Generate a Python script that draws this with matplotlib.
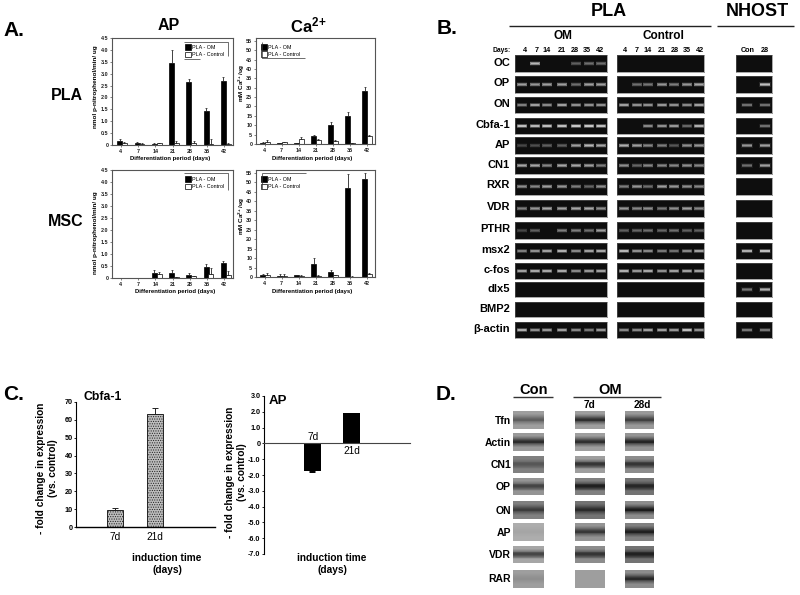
import numpy as np
import matplotlib
matplotlib.use('Agg')
import matplotlib.pyplot as plt

plt.rcParams['font.family'] = ['Liberation Sans', 'DejaVu Sans']
plt.rcParams['font.weight'] = 'bold'
plt.rcParams['mathtext.default'] = 'regular'
plt.rcParams['hatch.linewidth'] = 0.5

W, H = 800, 595
DARK = '#0e0e0e'

# ---------- data ----------
days = ['4', '7', '14', '21', '28', '35', '42']
ap_ticks = [0, 0.5, 1.0, 1.5, 2.0, 2.5, 3.0, 3.5, 4.0, 4.5]
ca_ticks = [0, 5, 10, 15, 20, 25, 30, 35, 40, 45, 50, 55]

pla_ap_om = [0.17, 0.10, 0.06, 3.45, 2.65, 1.42, 2.68]
pla_ap_om_err = [0.08, 0.03, 0.02, 0.55, 0.13, 0.12, 0.20]
pla_ap_ct = [0.08, 0.05, 0.07, 0.07, 0.07, 0.05, 0.06]
pla_ap_ct_err = [0.05, 0.02, 0.02, 0.08, 0.08, 0.22, 0.02]

pla_ca_om = [0.7, 0.5, 0.3, 4.0, 10.0, 15.0, 28.5]
pla_ca_om_err = [0.2, 0.2, 0.2, 1.0, 1.8, 1.8, 1.7]
pla_ca_ct = [1.2, 0.8, 2.5, 2.0, 1.5, 0.4, 4.5]
pla_ca_ct_err = [0.7, 0.3, 1.0, 0.5, 0.8, 0.3, 0.3]

msc_ap_om = [0, 0, 0.20, 0.22, 0.12, 0.45, 0.63]
msc_ap_om_err = [0, 0, 0.12, 0.10, 0.07, 0.13, 0.08]
msc_ap_ct = [0, 0, 0.15, 0.04, 0.07, 0.15, 0.13]
msc_ap_ct_err = [0, 0, 0.08, 0.02, 0.03, 0.28, 0.15]

msc_ca_om = [0.8, 0.6, 0.9, 7.0, 2.7, 47.0, 52.0]
msc_ca_om_err = [1.0, 1.0, 0.4, 2.8, 0.9, 7.5, 2.7]
msc_ca_ct = [0.9, 0.7, 0.6, 0.6, 0.9, 0.2, 1.6]
msc_ca_ct_err = [1.0, 0.8, 0.3, 0.3, 0.3, 0.1, 0.3]

genes = ['OC', 'OP', 'ON', 'Cbfa-1', 'AP', 'CN1', 'RXR', 'VDR', 'PTHR',
         'msx2', 'c-fos', 'dlx5', 'BMP2', 'β-actin']
gel_om = [
    [0, .85, 0, 0, .3, .4, .4],
    [.7, .65, .7, .7, .4, .7, .7],
    [.5, .7, .55, .7, .6, .6, .6],
    [.9, .85, .9, .9, .95, .95, .9],
    [.15, .2, .3, .3, .7, .85, .75],
    [.75, .75, .55, .75, .75, .7, .5],
    [.6, .55, .7, .65, .5, .35, .6],
    [.5, .65, .75, .7, .75, .75, .6],
    [.15, .3, 0, .5, .5, .4, .7],
    [.5, .6, .7, .8, .55, .7, .75],
    [.7, .75, .75, .75, .55, .65, .7],
    [0, 0, 0, 0, 0, 0, 0],
    [0, 0, 0, 0, 0, 0, 0],
    [.8, .6, .65, .7, .55, .45, .65],
]
gel_ct = [
    [0, 0, 0, 0, 0, 0, 0],
    [0, .4, .45, .65, .5, .65, .75],
    [.7, .6, .6, .65, .6, .55, .7],
    [0, 0, .55, .6, .65, .35, .8],
    [.8, .7, .55, .5, .25, .6, .65],
    [.6, .35, .55, .55, .55, .6, .55],
    [.5, .65, .4, .7, .65, .6, .55],
    [.65, .55, .6, .45, .6, .7, .55],
    [.3, .35, .4, .35, .4, .3, .3],
    [.85, .6, .55, .45, .4, .55, .7],
    [.8, .65, .75, .6, .7, .7, .7],
    [0, 0, 0, 0, 0, 0, 0],
    [0, 0, 0, 0, 0, 0, 0],
    [.55, .55, .7, .7, .65, .9, .6],
]
gel_nh = [[0, 0], [0, .9], [.4, .4], [0, .4], [.65, .7], [.4, .7], [0, 0],
          [0, 0], [0, 0], [.8, .9], [0, 0], [.45, .8], [0, 0], [.45, .45]]
nh_labels = ['Con', '28']

cbfa_times = ['7d', '21d']
cbfa_vals = [9.5, 63.5]
cbfa_err = [1.2, 3.0]
cbfa_ticks = [0, 10, 20, 30, 40, 50, 60, 70]
apc_times = ['7d', '21d']
apc_vals = [-1.75, 1.9]
apc_err = [0.05, 0.05]
apc_ticks = [3, 2, 1, 0, -1, -2, -3, -4, -5, -6, -7]
apc_ticklabels = ['3.0', '2.0', '1.0', '0', '-1.0', '-2.0', '-3.0', '-4.0', '-5.0', '-6.0', '-7.0']

wb_rows = ['Tfn', 'Actin', 'CN1', 'OP', 'ON', 'AP', 'VDR', 'RAR']
wb_band = [[.45, .8, .65], [.8, .8, .85], [.35, .75, .7], [.6, .85, .75],
           [.6, .7, .95], [.05, .7, .85], [.65, .7, .8], [.1, 0, .8]]
wb_bg = [[.62, .62, .6], [.6, .62, .58], [.5, .62, .55], [.58, .5, .45],
         [.5, .45, .55], [.68, .58, .5], [.65, .55, .45], [.62, .62, .55]]

# ---------- layout (pixels) ----------
fig = plt.figure(figsize=(W / 100, H / 100), dpi=100, facecolor='white')


def axpx(x0, y0, x1, y1, **kw):
    return fig.add_axes([x0 / W, 1 - y1 / H, (x1 - x0) / W, (y1 - y0) / H], **kw)


def bars(box, om, om_e, ct, ct_e, ticks, ylim, off, ticklabels):
    ax = axpx(*box)
    x = np.arange(len(days))
    kw = dict(width=0.29, edgecolor='black', linewidth=0.5,
              error_kw=dict(ecolor='#222222', elinewidth=0.6, capsize=0.8, capthick=0.5))
    h1 = ax.bar(x + off[0], om, color='black',
                yerr=[np.zeros(len(om)), om_e], **kw)
    h2 = ax.bar(x + off[1], ct, color='white',
                yerr=[np.zeros(len(ct)), ct_e], **kw)
    ax.set_xlim(-0.5, 6.5)
    ax.set_ylim(*ylim)
    ax.set_xticks(x, days)
    ax.set_yticks(ticks, ticklabels)
    ax.tick_params(labelsize=3.9, length=1.2, width=0.4, pad=1.5, colors='#222222')
    for s in ax.spines.values():
        s.set_linewidth(0.8)
        s.set_color('#555555')
    return ax, h1, h2


ap_labels = ['0', '0.5', '1.0', '1.5', '2.0', '2.5', '3.0', '3.5', '4.0', '4.5']
ca_labels = [str(t) for t in ca_ticks]
a1, h1, h2 = bars((112, 38, 233, 145), pla_ap_om, pla_ap_om_err, pla_ap_ct, pla_ap_ct_err,
                  ap_ticks, (0, 4.5), (-0.05, 0.22), ap_labels)
a2, _, _ = bars((256, 38, 375, 144), pla_ca_om, pla_ca_om_err, pla_ca_ct, pla_ca_ct_err,
                ca_ticks, (0, 56.5), (-0.1, 0.17), ca_labels)
a3, _, _ = bars((112, 170, 233, 278), msc_ap_om, msc_ap_om_err, msc_ap_ct, msc_ap_ct_err,
                ap_ticks, (0, 4.5), (-0.05, 0.22), ap_labels)
a4, _, _ = bars((256, 170, 375, 277), msc_ca_om, msc_ca_om_err, msc_ca_ct, msc_ca_ct_err,
                ca_ticks, (0, 56.5), (-0.1, 0.17), ca_labels)

for ax, anchor in ((a1, (0.595, 0.95)), (a2, (0.03, 0.95)), (a3, (0.595, 0.95)), (a4, (0.03, 0.95))):
    lg = ax.legend([h1, h2], ['PLA - OM', 'PLA - Control'], loc='upper left', bbox_to_anchor=anchor,
                   frameon=False, handlelength=1.1, handleheight=1.1,
                   handletextpad=0.2, labelspacing=0.3, borderpad=0.2, borderaxespad=0,
                   prop=dict(size=3.9, weight='normal'))


# Gels
gel_rows = [(55, 72), (76, 93), (97, 113), (118, 134), (137, 154), (157, 174), (178, 195),
            (200, 217), (222, 239), (243, 259), (263, 279), (282, 297), (302, 317), (322, 338)]


def gel(x0, x1, y0, y1, vals, lanes):
    ax = axpx(x0, y0, x1, y1)
    ax.set_facecolor(DARK)
    ax.set_xlim(x0, x1)
    ax.set_ylim(0, 1)
    ax.set_xticks([])
    ax.set_yticks([])
    for s in ax.spines.values():
        s.set_color('#666666')
        s.set_linewidth(0.4)
    w = 0.7 * (lanes[1] - lanes[0]) if lanes[1] - lanes[0] < 14 else 10
    for xc, v in zip(lanes, vals):
        if v > 0:
            g = str(0.2 + 0.7 * v)
            for hgt, wid, a in ((0.30, w + 1.5, 0.12), (0.22, w + 0.8, 0.25), (0.15, w, 0.45), (0.08, w - 0.8, 0.7)):
                ax.bar(xc, hgt, wid, bottom=0.5 - hgt / 2, color=g, alpha=a, linewidth=0)


om_lanes = [522, 535, 547, 562, 576, 589, 601]
ct_lanes = [624, 637, 648, 662, 674, 687, 699]
nh_lanes = [747, 765]
for (y0, y1), a, b, c in zip(gel_rows, gel_om, gel_ct, gel_nh):
    gel(515, 607, y0, y1, a, om_lanes)
    gel(617, 704, y0, y1, b, ct_lanes)
    gel(736, 772, y0, y1, c, nh_lanes)


# Panel C
def style_c(ax):
    ax.spines['top'].set_visible(False)
    ax.spines['right'].set_visible(False)
    ax.tick_params(axis='y', labelsize=5.2, length=1.5, width=0.6, pad=1)
    ax.patch.set_alpha(0)


c1 = axpx(76, 402, 215, 527)
style_c(c1)
c1.bar([0, 1], cbfa_vals, 0.4, color='#bdbdbd', edgecolor='#222222', hatch='.......', linewidth=0.7,
       yerr=[[0, 0], cbfa_err], error_kw=dict(ecolor='#222222', elinewidth=0.7, capsize=2.2, capthick=0.7))
c1.set_xlim(-0.975, 2.5)
c1.set_ylim(0, 70)
c1.set_yticks(cbfa_ticks)
c1.set_xticks([0, 1], cbfa_times)
c1.tick_params(axis='x', length=0, labelsize=7.3, pad=3.5)
for l in c1.get_xticklabels():
    l.set_fontweight('normal')
c1.spines['bottom'].set_linewidth(1)

c2 = axpx(264, 396, 410, 554)
style_c(c2)
c2.bar([0, 1], apc_vals, 0.44, color='black',
       yerr=[[apc_err[0], 0], [0, apc_err[1]]], error_kw=dict(ecolor='black', elinewidth=0.7, capsize=2.2, capthick=0.7))
c2.set_xlim(-1.24, 2.5)
c2.set_ylim(-7, 3)
c2.set_yticks(apc_ticks, apc_ticklabels)
c2.set_xticks([])
c2.spines['bottom'].set_position(('data', 0))
c2.spines['bottom'].set_color('#444444')
c2.text(0.02, 0.42, apc_times[0], ha='center', va='center', fontsize=7.3, fontweight='normal')
c2.text(1.0, -0.5, apc_times[1], ha='center', va='center', fontsize=7.3, fontweight='normal')

# Panel D westerns
wb_rows_px = [(411, 429), (433, 451), (456, 473), (478, 495), (501, 519), (523, 541), (546, 563), (570, 588)]
wb_cols_px = [(513, 544), (575, 605), (625, 654)]
for (y0, y1), band, bg in zip(wb_rows_px, wb_band, wb_bg):
    for (x0, x1), d, b in zip(wb_cols_px, band, bg):
        ax = axpx(x0, y0, x1, y1)
        ax.set_facecolor(str(b))
        ax.set_xlim(0, 1)
        ax.set_ylim(0, 1)
        ax.set_xticks([])
        ax.set_yticks([])
        for s in ax.spines.values():
            s.set_visible(False)
        if d > 0:
            tone = str(max(0.05, b * (1 - d)))
            for hgt, a in ((0.62, 0.10), (0.5, 0.15), (0.4, 0.2), (0.3, 0.3), (0.2, 0.4), (0.12, 0.5)):
                ax.bar(0.5, hgt, 1, bottom=0.52 - hgt / 2, color=tone, alpha=a, linewidth=0)

# ---------- overlay (text and rules, pixel coordinates) ----------
ov = fig.add_axes([0, 0, 1, 1], zorder=20)
ov.set_xlim(0, W)
ov.set_ylim(H, 0)
ov.axis('off')


def T(x, y, s, size, ha='center', rot=0, weight='bold', color='black'):
    ov.text(x, y, s, fontsize=size, ha=ha, va='center', rotation=rot, fontweight=weight, color=color)


def L(xs, ys, lw=0.8, color='#333333'):
    ov.plot(xs, ys, color=color, lw=lw, solid_capstyle='butt')


T(3, 30, 'A.', 15, 'left')
T(437, 28, 'B.', 15, 'left')
T(3, 394, 'C.', 15, 'left')
T(436, 395, 'D.', 15, 'left')

T(169, 25, 'AP', 11.5)
T(308, 25, 'Ca$^{2\\!+}$', 12)
T(67, 95, 'PLA', 11.5)
T(66, 222, 'MSC', 11.5)

for x, y in ((170, 158.5), (312, 158.5), (175, 291), (312, 291)):
    T(x, y, 'Differentiation period (days)', 4.3)
T(95, 87, 'nmol p-nitrophenol/min/ ug', 4.6, rot=90)
T(242, 83, 'mM Ca$^{2\\!+}$/ug', 4.6, rot=90)
T(95, 233, 'nmol p-nitrophenol/min/ ug', 4.6, rot=90)
T(242, 216, 'mM Ca$^{2\\!+}$/ug', 4.6, rot=90)

# partial legend frames
L([184, 228, 228], [42, 42, 56], 0.5)
L([184, 200], [59, 59], 0.5)
L([262, 262, 305], [42, 58, 58], 0.5)
L([184, 228, 228], [173, 173, 190], 0.5)
L([262, 262], [173, 189], 0.5)
L([262, 306], [173, 173], 0.5)

# Panel B text
T(609, 11, 'PLA', 13)
T(757, 11, 'NHOST', 13)
L([509, 711], [26, 26], 1.0, '#222222')
L([717, 794], [26, 26], 1.0, '#222222')
T(563, 36, 'OM', 8.5)
T(663, 36, 'Control', 8.5)
T(502, 50, 'Days:', 4.8)
for d, x in zip(days, [525, 537, 547, 562, 575, 587, 600]):
    T(x, 50, d, 5.2)
for d, x in zip(days, [625, 637, 648, 662, 675, 687, 700]):
    T(x, 50, d, 5.2)
for d, x in zip(nh_labels, [748, 765]):
    T(x, 50, d, 5.2)
for g, (y0, y1) in zip(genes, gel_rows):
    T(510, (y0 + y1) / 2 - 1, g, 8, 'right')

# Panel C text
T(103, 397, 'Cbfa-1', 8.8)
T(278, 401, 'AP', 9.5)
T(41, 468, '- fold change in expression', 7.3, rot=90)
T(53, 468, '(vs. control)', 7.3, rot=90)
T(230, 472, '- fold change in expression', 7.3, rot=90)
T(242, 472, '(vs. control)', 7.3, rot=90)
T(167, 558, 'induction time', 7.3)
T(167, 570, '(days)', 7.3)
T(332, 558, 'induction time', 7.3)
T(332, 570, '(days)', 7.3)

# Panel D text
T(534, 390, 'Con', 10.5)
T(610, 390, 'OM', 10.5)
L([513, 553], [397, 397], 1.0)
L([573, 661], [397, 397], 1.0)
T(590, 405, '7d', 7.2)
T(642, 405, '28d', 7.2)
for r, (y0, y1) in zip(wb_rows, wb_rows_px):
    T(511, (y0 + y1) / 2 + 0.5, r, 7.5, 'right')

fig.savefig('out.png', dpi=100, facecolor='white')
